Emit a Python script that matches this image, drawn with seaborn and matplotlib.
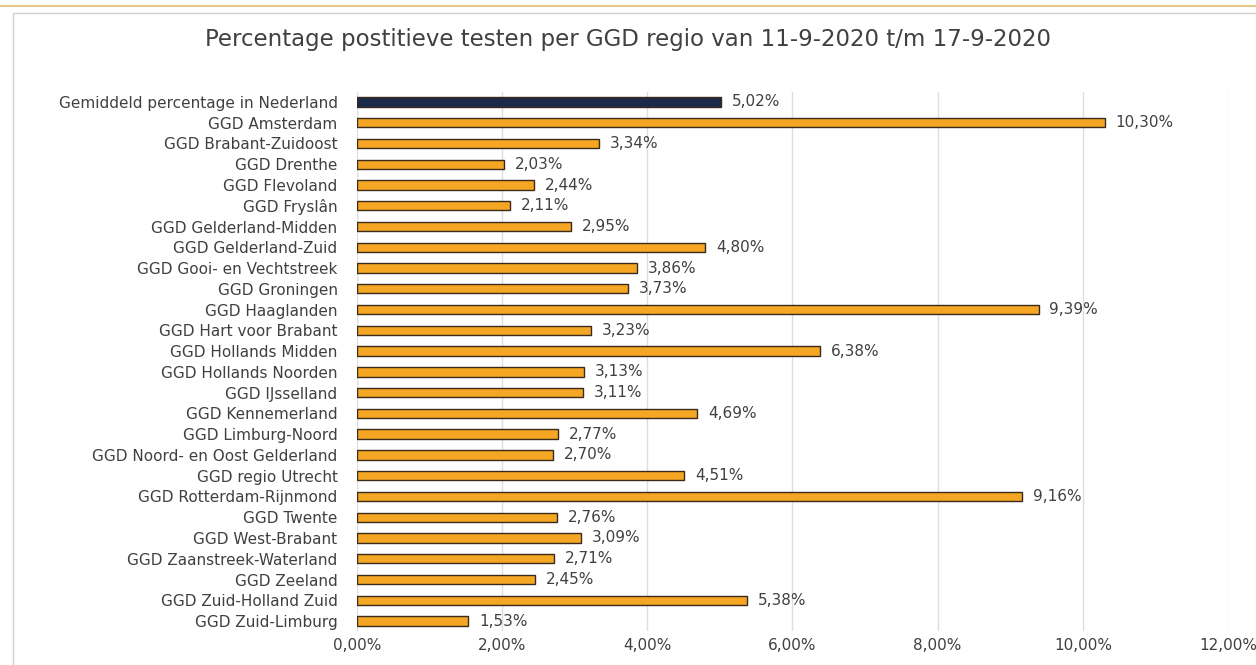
import numpy as np
import pandas as pd
import seaborn as sns
import matplotlib.pyplot as plt
from matplotlib.patches import Rectangle
from matplotlib.lines import Line2D

# data
regios = ["Gemiddeld percentage in Nederland", "GGD Amsterdam", "GGD Brabant-Zuidoost",
          "GGD Drenthe", "GGD Flevoland", "GGD Fryslân", "GGD Gelderland-Midden",
          "GGD Gelderland-Zuid", "GGD Gooi- en Vechtstreek", "GGD Groningen",
          "GGD Haaglanden", "GGD Hart voor Brabant", "GGD Hollands Midden",
          "GGD Hollands Noorden", "GGD IJsselland", "GGD Kennemerland",
          "GGD Limburg-Noord", "GGD Noord- en Oost Gelderland", "GGD regio Utrecht",
          "GGD Rotterdam-Rijnmond", "GGD Twente", "GGD West-Brabant",
          "GGD Zaanstreek-Waterland", "GGD Zeeland", "GGD Zuid-Holland Zuid",
          "GGD Zuid-Limburg"]
percentages = [5.02, 10.30, 3.34, 2.03, 2.44, 2.11, 2.95, 4.80, 3.86, 3.73, 9.39, 3.23,
               6.38, 3.13, 3.11, 4.69, 2.77, 2.70, 4.51, 9.16, 2.76, 3.09, 2.71, 2.45,
               5.38, 1.53]
soort = ["gemiddeld"] + ["ggd"] * (len(regios) - 1)
x_ticks = [0, 2, 4, 6, 8, 10, 12]

df = pd.DataFrame({"regio": regios, "pct": percentages, "soort": soort})

sns.set_style("white")
plt.rcParams['font.family'] = ['DejaVu Sans']
tekst = "#404040"

fig = plt.figure(figsize=(12.56, 6.65), dpi=100)
ax = fig.add_axes([0.2842, 0.0505, 0.6935, 0.8118])

sns.barplot(data=df, y="regio", x="pct", hue="soort", orient="h", ax=ax,
            palette={"gemiddeld": "#1c2a4a", "ggd": "#f5a623"}, saturation=1,
            width=0.45, edgecolor="#3a2a1c", linewidth=1.0, legend=False, dodge=False)

for i, v in enumerate(percentages):
    ax.text(v + 0.15, i, f"{v:.2f}%".replace(".", ","), va="center", ha="left",
            fontsize=11, color=tekst)

ax.set_xlim(0, 12)
ax.set_xticks(x_ticks)
ax.set_xticklabels([f"{t:.2f}%".replace(".", ",") for t in x_ticks], fontsize=11, color=tekst)
ax.tick_params(axis="y", labelsize=11, labelcolor=tekst, length=0, pad=14)
ax.tick_params(axis="x", length=0, pad=5)
ax.set_xlabel("")
ax.set_ylabel("")
ax.xaxis.grid(True, color="#dedede", linewidth=1)
ax.set_axisbelow(True)
for s in ax.spines.values():
    s.set_visible(False)

fig.text(0.5, 0.94, "Percentage postitieve testen per GGD regio van 11-9-2020 t/m 17-9-2020",
         ha="center", va="center", fontsize=16.5, color=tekst)

# rand van de grafiek en lijn bovenaan
fig.patches.append(Rectangle((0.0105, -0.01), 1.0, 0.99, transform=fig.transFigure,
                             fill=False, edgecolor="#d0d0d0", linewidth=1))
fig.lines.append(Line2D([0, 1], [0.991, 0.991], transform=fig.transFigure,
                        color="#e8c98a", linewidth=1.5))

fig.savefig("out.png", dpi=100, facecolor="white")
